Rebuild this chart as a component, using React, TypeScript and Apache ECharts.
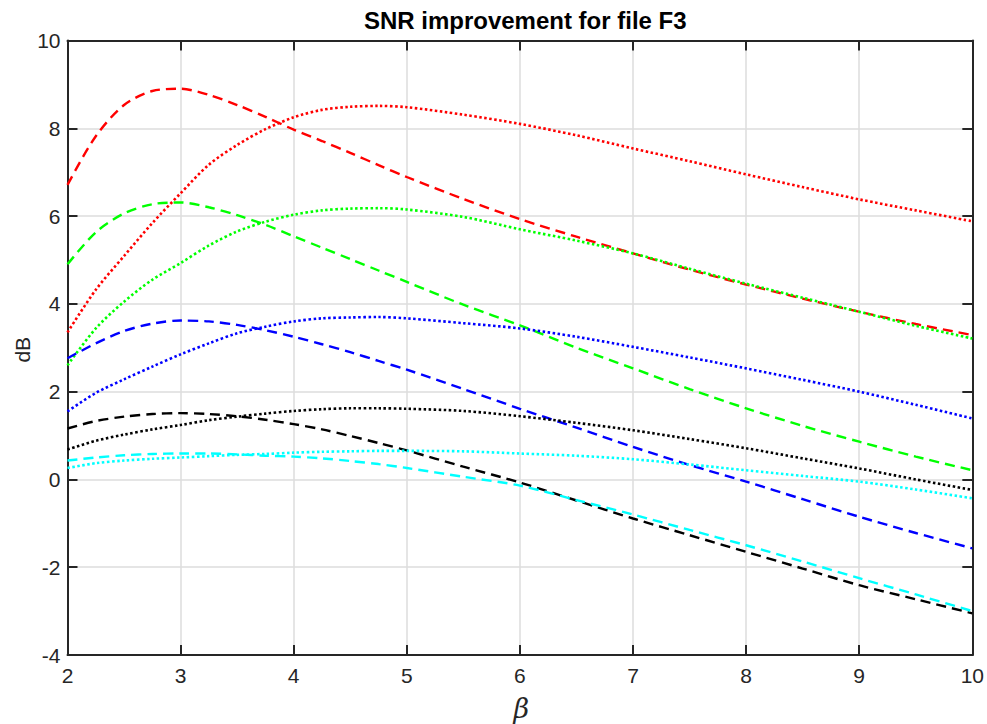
import React, { useEffect, useRef } from "react";
import * as echarts from "echarts";

const betaValues = [2, 2.25, 2.5, 2.75, 3, 3.25, 3.5, 3.75, 4, 4.25, 4.5, 4.75, 5, 5.5, 6, 6.5, 7, 7.5, 8, 8.5, 9, 9.5, 10];

const redDashed = [6.71, 7.82, 8.53, 8.85, 8.9, 8.76, 8.53, 8.26, 7.97, 7.71, 7.44, 7.16, 6.89, 6.39, 5.93, 5.53, 5.15, 4.78, 4.44, 4.12, 3.82, 3.54, 3.29];
const redDotted = [3.35, 4.32, 5.09, 5.84, 6.52, 7.17, 7.62, 7.98, 8.25, 8.42, 8.49, 8.51, 8.48, 8.31, 8.1, 7.84, 7.54, 7.25, 6.95, 6.66, 6.38, 6.13, 5.88];
const greenDashed = [4.9, 5.63, 6.06, 6.27, 6.31, 6.2, 6.02, 5.8, 5.54, 5.28, 5.02, 4.76, 4.5, 3.98, 3.51, 3.0, 2.53, 2.06, 1.62, 1.22, 0.86, 0.52, 0.21];
const greenDotted = [2.6, 3.44, 4.05, 4.55, 4.93, 5.33, 5.65, 5.87, 6.03, 6.13, 6.17, 6.18, 6.15, 5.98, 5.7, 5.44, 5.15, 4.8, 4.46, 4.14, 3.82, 3.5, 3.21];
const blueDashed = [2.76, 3.1, 3.38, 3.55, 3.62, 3.6, 3.52, 3.4, 3.25, 3.08, 2.9, 2.7, 2.5, 2.06, 1.61, 1.18, 0.74, 0.33, -0.05, -0.45, -0.85, -1.22, -1.57];
const blueDotted = [1.55, 1.97, 2.28, 2.57, 2.85, 3.1, 3.33, 3.48, 3.6, 3.67, 3.69, 3.7, 3.67, 3.56, 3.44, 3.25, 3.02, 2.78, 2.53, 2.27, 2.0, 1.7, 1.39];
const blackDashed = [1.16, 1.33, 1.43, 1.49, 1.51, 1.49, 1.44, 1.36, 1.26, 1.14, 0.99, 0.83, 0.66, 0.29, -0.07, -0.48, -0.89, -1.27, -1.65, -2.03, -2.41, -2.73, -3.05];
const blackDotted = [0.68, 0.88, 1.02, 1.14, 1.24, 1.35, 1.43, 1.5, 1.56, 1.6, 1.62, 1.62, 1.61, 1.56, 1.44, 1.29, 1.12, 0.92, 0.71, 0.48, 0.25, 0.0, -0.24];
const cyanDashed = [0.43, 0.5, 0.55, 0.58, 0.59, 0.59, 0.57, 0.54, 0.52, 0.48, 0.42, 0.35, 0.26, 0.06, -0.14, -0.47, -0.8, -1.15, -1.5, -1.87, -2.25, -2.62, -3.0];
const cyanDotted = [0.26, 0.37, 0.43, 0.47, 0.5, 0.53, 0.56, 0.58, 0.61, 0.63, 0.64, 0.65, 0.65, 0.64, 0.59, 0.54, 0.46, 0.34, 0.21, 0.08, -0.05, -0.23, -0.43];

const xTicks = [2, 3, 4, 5, 6, 7, 8, 9, 10];
const yTicks = [-4, -2, 0, 2, 4, 6, 8, 10];

const titleText = "SNR improvement for file F3";
const xLabel = "β";
const yLabel = "dB";

const seriesDefs = [
  { name: "red --", color: "#ff0000", dash: "dashed", data: redDashed },
  { name: "red :", color: "#ff0000", dash: "dotted", data: redDotted },
  { name: "green --", color: "#00ff00", dash: "dashed", data: greenDashed },
  { name: "green :", color: "#00ff00", dash: "dotted", data: greenDotted },
  { name: "blue --", color: "#0000ff", dash: "dashed", data: blueDashed },
  { name: "blue :", color: "#0000ff", dash: "dotted", data: blueDotted },
  { name: "black --", color: "#000000", dash: "dashed", data: blackDashed },
  { name: "black :", color: "#000000", dash: "dotted", data: blackDotted },
  { name: "cyan --", color: "#00ffff", dash: "dashed", data: cyanDashed },
  { name: "cyan :", color: "#00ffff", dash: "dotted", data: cyanDotted },
];

const GRID = { left: 67.5, right: 12, top: 40.5, bottom: 69 };
const W = 987;
const H = 724;
const FONT = "'Liberation Sans', Arial, Helvetica, sans-serif";
const AXIS_COLOR = "#262626";

export default function App() {
  const ref = useRef<HTMLDivElement>(null);
  useEffect(() => {
    if (!ref.current) return;
    const chart = echarts.init(ref.current, undefined, { renderer: "svg" });
    const xMin = xTicks[0];
    const xMax = xTicks[xTicks.length - 1];
    const yMin = yTicks[0];
    const yMax = yTicks[yTicks.length - 1];
    const plotCx = GRID.left + (W - GRID.left - GRID.right) / 2;
    const plotCy = GRID.top + (H - GRID.top - GRID.bottom) / 2;

    const commonAxisLine = { show: true, lineStyle: { color: AXIS_COLOR, width: 2 } };
    const commonTick = { show: true, inside: true, length: 10, lineStyle: { color: AXIS_COLOR, width: 2 } };

    chart.setOption({
      animation: false,
      backgroundColor: "#ffffff",
      grid: { ...GRID, containLabel: false },
      xAxis: [
        {
          type: "value",
          min: xMin,
          max: xMax,
          interval: 1,
          position: "bottom",
          axisLine: { ...commonAxisLine, onZero: false },
          axisTick: commonTick,
          axisLabel: { color: AXIS_COLOR, fontSize: 21, fontFamily: FONT, margin: 10 },
          splitLine: { show: true, lineStyle: { color: "#dcdcdc", width: 1.5 } },
        },
        {
          type: "value",
          min: xMin,
          max: xMax,
          interval: 1,
          position: "top",
          axisLine: { ...commonAxisLine, onZero: false },
          axisTick: commonTick,
          axisLabel: { show: false },
          splitLine: { show: false },
        },
      ],
      yAxis: [
        {
          type: "value",
          min: yMin,
          max: yMax,
          interval: 2,
          position: "left",
          axisLine: { ...commonAxisLine, onZero: false },
          axisTick: commonTick,
          axisLabel: { color: AXIS_COLOR, fontSize: 21, fontFamily: FONT, margin: 7 },
          splitLine: { show: true, lineStyle: { color: "#dcdcdc", width: 1.5 } },
        },
        {
          type: "value",
          min: yMin,
          max: yMax,
          interval: 2,
          position: "right",
          axisLine: { ...commonAxisLine, onZero: false },
          axisTick: commonTick,
          axisLabel: { show: false },
          splitLine: { show: false },
        },
      ],
      series: seriesDefs.map((s) => ({
        name: s.name,
        type: "line",
        xAxisIndex: 0,
        yAxisIndex: 0,
        data: betaValues.map((b, i) => [b, s.data[i]]),
        showSymbol: false,
        symbol: "none",
        smooth: 0.3,
        lineStyle: {
          color: s.color,
          width: s.dash === "dashed" ? 2.4 : 2.6,
          type: s.dash === "dashed" ? [10, 6] : [2.5, 2.5],
          cap: "butt",
        },
        z: 3,
      })),
      graphic: [
        {
          type: "text",
          x: plotCx + 4,
          y: 20,
          style: {
            text: titleText,
            fontFamily: FONT,
            fontWeight: "bold",
            fontSize: 24,
            fill: "#000000",
            textAlign: "center",
            textVerticalAlign: "middle",
          },
        },
        {
          type: "text",
          x: 22,
          y: plotCy + 2,
          rotation: Math.PI / 2,
          style: {
            text: yLabel,
            fontFamily: FONT,
            fontSize: 21,
            fill: AXIS_COLOR,
            textAlign: "center",
            textVerticalAlign: "middle",
          },
        },
        {
          type: "text",
          x: plotCx,
          y: 708,
          style: {
            text: xLabel,
            fontFamily: "'DejaVu Serif', 'Liberation Serif', serif",
            fontStyle: "italic",
            fontSize: 27,
            fill: AXIS_COLOR,
            textAlign: "center",
            textVerticalAlign: "middle",
          },
        },
      ],
    });
    return () => chart.dispose();
  }, []);
  return <div ref={ref} style={{ position: "fixed", left: 0, top: 0, width: W, height: H }} />;
}
